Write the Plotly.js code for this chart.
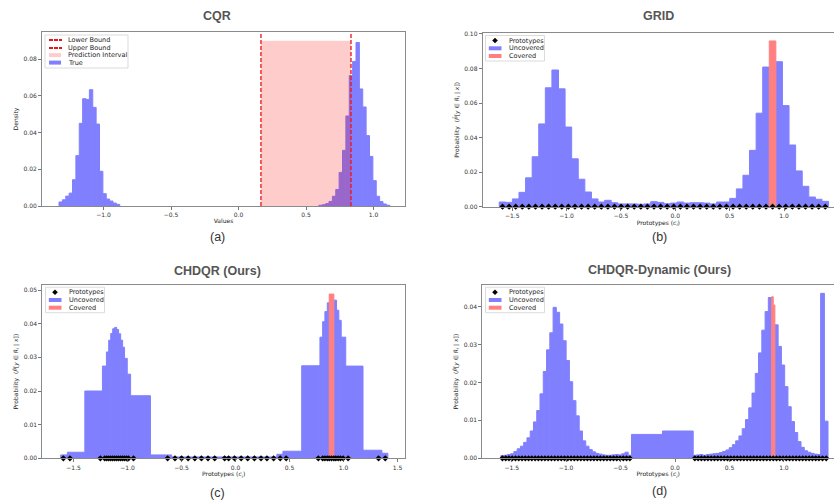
<!DOCTYPE html>
<html>
<head>
<meta charset="utf-8">
<script src="https://cdn.plot.ly/plotly-3.0.1.min.js"></script>
<style>html,body{margin:0;padding:0;background:#fff;overflow:hidden;}#chart{width:834px;height:502px;}</style>
</head>
<body>
<div id="chart"></div>
<script>
// ---------------- DATA ----------------
// (a) CQR
const cqrBinWidth = 0.025;
const cqrLeftStart = -1.33;
const cqrLeft = [0.0022, 0.0034, 0.0054, 0.0070, 0.0143, 0.0274, 0.0450, 0.0584, 0.0580, 0.0633, 0.0537, 0.0446, 0.0189, 0.0067, 0.0038, 0.0027, 0.0016, 0.0009];
const cqrRightStart = 0.595;
const cqrRight = [0.0004, 0.0007, 0.0013, 0.0025, 0.0053, 0.0090, 0.0183, 0.0303, 0.0490, 0.0710, 0.0787, 0.0890, 0.0637, 0.0539, 0.0383, 0.0270, 0.0138, 0.0053, 0.0024, 0.0011, 0.0004];
const cqrLowerBound = 0.166;
const cqrUpperBound = 0.833;
const cqrIntervalHeight = 0.090;

// (b) GRID
const gridStart = -1.62;
const gridWidth = 0.0606;
const gridProb = [0.0027, 0.0025, 0.0045, 0.0083, 0.0167, 0.0289, 0.0479, 0.0688, 0.0791, 0.0682,
  0.0461, 0.0277, 0.0159, 0.0085, 0.0045, 0.0027, 0.0037, 0.0023, 0.0016, 0.0016,
  0.0016, 0.0014, 0.0016, 0.0029, 0.0025, 0.0017, 0.0021, 0.0027, 0.0021, 0.0023,
  0.0023, 0.0021, 0.0016, 0.0027, 0.0027, 0.0048, 0.0103, 0.0182, 0.0326, 0.0541,
  0.0808, 0.0959, 0.0839, 0.0585, 0.0357, 0.0207, 0.0118, 0.0056, 0.0043, 0.0031];
const gridCovered = [41];

// (c) CHDQR
const chdqrEdges = [-1.620, -1.558, -1.396, -1.233, -1.196, -1.175, -1.156, -1.138, -1.120, -1.101,
  -1.083, -1.064, -1.046, -1.028, -1.003, -0.972, -0.788, -0.592, 0.383, 0.439,
  0.613, 0.782, 0.807, 0.828, 0.850, 0.868, 0.911, 0.936, 0.957, 0.979,
  1.021, 1.181, 1.356, 1.411];
const chdqrProb = [0.0010, 0.0018, 0.0200, 0.0274, 0.0316, 0.0351, 0.0371, 0.0385, 0.0389, 0.0383,
  0.0370, 0.0351, 0.0330, 0.0297, 0.0250, 0.0186, 0.0010, 0.0004, 0.0012, 0.0021,
  0.0275, 0.0360, 0.0406, 0.0436, 0.0462, 0.0488, 0.0470, 0.0440, 0.0410, 0.0360,
  0.0274, 0.0024, 0.0015];
const chdqrCovered = [25];
const chdqrPrototypes = [-1.595, -1.534, -1.252, -1.212, -1.193, -1.175, -1.156, -1.138, -1.120, -1.101,
  -1.083, -1.064, -1.046, -1.028, -1.009, -0.991, -0.945, -0.629, -0.561, -0.500,
  -0.439, -0.377, -0.316, -0.255, -0.193, -0.101, -0.064, -0.009, 0.052, 0.113,
  0.175, 0.236, 0.291, 0.353, 0.414, 0.469, 0.767, 0.807, 0.828, 0.850,
  0.868, 0.890, 0.911, 0.929, 0.951, 0.972, 0.997, 1.043, 1.325, 1.387];

// (d) CHDQR-Dynamic
const dynBinWidth = 0.03;
const dynLeftStart = -1.60;
const dynLeft = [0.0007, 0.0008, 0.0010, 0.0012, 0.0018, 0.0025, 0.0032, 0.0042, 0.0054, 0.0072,
  0.0096, 0.0126, 0.0170, 0.0229, 0.0286, 0.0331, 0.0398, 0.0385, 0.0354, 0.0310,
  0.0258, 0.0202, 0.0152, 0.0112, 0.0072, 0.0046, 0.0032, 0.0023, 0.0017, 0.0013,
  0.0011, 0.0009, 0.0008, 0.0008, 0.0009, 0.0010, 0.0009, 0.0012, 0.0016, 0.0008];
const dynMidEdges = [-0.40, -0.115, 0.167];
const dynMid = [0.0063, 0.0072];
const dynRightStart = 0.167;
const dynRight = [0.0008, 0.0009, 0.0010, 0.0008, 0.0010, 0.0011, 0.0012, 0.0013, 0.0015, 0.0018,
  0.0022, 0.0028, 0.0036, 0.0046, 0.0059, 0.0078, 0.0102, 0.0133, 0.0172, 0.0224,
  0.0278, 0.0338, 0.0387, 0.0424, null, 0.0352, 0.0295, 0.0246, 0.0189, 0.0136,
  0.0097, 0.0068, 0.0044, 0.0029, 0.0020, 0.0016, 0.0013, 0.0011, 0.0010];
const dynCoveredEdges = [0.887, 0.902, 0.917];
const dynCovered = [0.0426, 0.0404];
const dynSpikeEdges = [1.337, 1.372, 1.405];
const dynSpike = [0.0435, 0.0098];

// ---------------- HELPERS ----------------
const W = 834, H = 502;
const px = v => v / W;
const py = v => 1 - v / H;
const BLUE = '#8080ff';   // blue at alpha 0.5 on white
const RED = '#ff8080';    // red at alpha 0.5 on white
const PINK = 'rgba(255,0,0,0.2)';
const LRED = 'rgb(235,20,20)';

function uniformEdges(start, width, n) {
  const e = [];
  for (let i = 0; i <= n; i++) e.push(start + i * width);
  return e;
}
function barsFromEdges(edges, heights, skip) {
  const x = [], w = [], y = [];
  heights.forEach((h, i) => {
    if (h === null || (skip && skip.indexOf(i) >= 0)) return;
    x.push((edges[i] + edges[i + 1]) / 2);
    w.push(edges[i + 1] - edges[i]);
    y.push(h);
  });
  return {x, w, y};
}
function pick(edges, heights, idx) {
  const x = [], w = [], y = [];
  idx.forEach(i => { x.push((edges[i] + edges[i + 1]) / 2); w.push(edges[i + 1] - edges[i]); y.push(heights[i]); });
  return {x, w, y};
}
function centers(edges) {
  const c = [];
  for (let i = 0; i < edges.length - 1; i++) c.push((edges[i] + edges[i + 1]) / 2);
  return c;
}
function barTrace(b, color, xa, ya, lw) {
  return {type: 'bar', x: b.x, y: b.y, width: b.w, xaxis: xa, yaxis: ya,
    marker: {color: color, line: {width: lw === undefined ? 1 : lw, color: color}}, hoverinfo: 'x+y'};
}
function protoTrace(xs, xa, ya) {
  return {type: 'scatter', mode: 'markers', x: xs, y: xs.map(() => 0), xaxis: xa, yaxis: ya,
    marker: {symbol: 'diamond', size: 4.8, color: '#000'}, cliponaxis: false, hoverinfo: 'x'};
}

const traces = [];
// (a)
const cqrLeftEdges = uniformEdges(cqrLeftStart, cqrBinWidth, cqrLeft.length);
const cqrRightEdges = uniformEdges(cqrRightStart, cqrBinWidth, cqrRight.length);
traces.push(barTrace(barsFromEdges(cqrLeftEdges, cqrLeft), BLUE, 'x', 'y'));
traces.push(barTrace(barsFromEdges(cqrRightEdges, cqrRight), BLUE, 'x', 'y'));
traces.push(barTrace({x: [(cqrLowerBound + cqrUpperBound) / 2], w: [cqrUpperBound - cqrLowerBound], y: [cqrIntervalHeight]}, PINK, 'x', 'y', 0));

// (b)
const gridEdges = uniformEdges(gridStart, gridWidth, gridProb.length);
traces.push(barTrace(barsFromEdges(gridEdges, gridProb, gridCovered), BLUE, 'x2', 'y2'));
traces.push(barTrace(pick(gridEdges, gridProb, gridCovered), RED, 'x2', 'y2'));
traces.push(protoTrace(centers(gridEdges), 'x2', 'y2'));

// (c)
traces.push(barTrace(barsFromEdges(chdqrEdges, chdqrProb, chdqrCovered), BLUE, 'x3', 'y3'));
traces.push(barTrace(pick(chdqrEdges, chdqrProb, chdqrCovered), RED, 'x3', 'y3'));
traces.push(protoTrace(chdqrPrototypes, 'x3', 'y3'));

// (d)
const dynLeftEdges = uniformEdges(dynLeftStart, dynBinWidth, dynLeft.length);
const dynRightEdges = uniformEdges(dynRightStart, dynBinWidth, dynRight.length);
traces.push(barTrace(barsFromEdges(dynLeftEdges, dynLeft), BLUE, 'x4', 'y4'));
traces.push(barTrace(barsFromEdges(dynMidEdges, dynMid), BLUE, 'x4', 'y4'));
traces.push(barTrace(barsFromEdges(dynRightEdges, dynRight), BLUE, 'x4', 'y4'));
traces.push(barTrace(barsFromEdges(dynSpikeEdges, dynSpike), BLUE, 'x4', 'y4'));
traces.push(barTrace(barsFromEdges(dynCoveredEdges, dynCovered), RED, 'x4', 'y4'));
traces.push(protoTrace([].concat(centers(dynLeftEdges), centers(dynRightEdges), centers(dynSpikeEdges)), 'x4', 'y4'));

// ---------------- LAYOUT ----------------
const tickFont = {family: 'DejaVu Sans', size: 6, color: '#333'};
const titleFont = {family: 'DejaVu Sans', size: 6, color: '#222'};
function xAxis(dom, range, anchor, title, mirror) {
  return {domain: dom, range: range, anchor: anchor, showgrid: false, zeroline: false,
    showline: true, linecolor: '#8a8a8a', linewidth: 1, mirror: mirror,
    ticks: 'outside', ticklen: 3, tickwidth: 0.8, tickcolor: '#555', dtick: 0.5, tick0: 0,
    tickformat: '.1f', tickfont: tickFont, automargin: false,
    title: {text: title, font: titleFont, standoff: 1}};
}
function yAxis(dom, range, anchor, dtick, title, mirror) {
  return {domain: dom, range: range, anchor: anchor, showgrid: false, zeroline: false,
    showline: true, linecolor: '#8a8a8a', linewidth: 1, mirror: mirror,
    ticks: 'outside', ticklen: 3, tickwidth: 0.8, tickcolor: '#555', dtick: dtick, tick0: 0,
    tickformat: '.2f', tickfont: tickFont, automargin: false,
    title: {text: title, font: titleFont, standoff: 4}};
}
const probTitle = 'Probability  (<i>P̂</i>[<i>y</i> ∈ <i>R<sub>i</sub></i> | <i>x</i>])';
const protoTitle = 'Prototypes (<i>c<sub>i</sub></i>)';

const shapes = [
  {type: 'line', xref: 'x', yref: 'y domain', x0: cqrLowerBound, x1: cqrLowerBound, y0: 0, y1: 1,
    line: {color: LRED, width: 1.3, dash: '4px,2px'}},
  {type: 'line', xref: 'x', yref: 'y domain', x0: cqrUpperBound, x1: cqrUpperBound, y0: 0, y1: 1,
    line: {color: LRED, width: 1.3, dash: '4px,2px'}}
];
const annotations = [];

function addText(text, x, y, opts) {
  annotations.push(Object.assign({text: text, xref: 'paper', yref: 'paper', x: px(x), y: py(y),
    showarrow: false, xanchor: 'center', yanchor: 'middle'}, opts));
}
function frame(x0, y0, x1, y1) {
  shapes.push({type: 'rect', xref: 'paper', yref: 'paper', x0: px(x0), x1: px(x1), y0: py(y1), y1: py(y0),
    line: {color: '#d2d2d2', width: 0.8}, fillcolor: 'rgba(255,255,255,0.85)', layer: 'above'});
}
function patch(x0, x1, yc, color) {
  shapes.push({type: 'rect', xref: 'paper', yref: 'paper', x0: px(x0), x1: px(x1), y0: py(yc + 2), y1: py(yc - 2),
    line: {width: 0}, fillcolor: color, layer: 'above'});
}
function dashSample(x0, x1, yTop) {
  // three short red dashes, like a matplotlib '--' legend handle (2 px tall, pixel aligned)
  [[0, 4], [5, 9], [10, 13]].forEach(s => {
    shapes.push({type: 'rect', xref: 'paper', yref: 'paper', x0: px(x0 + s[0]), x1: px(x0 + s[1]),
      y0: py(yTop + 2), y1: py(yTop), line: {width: 0}, fillcolor: LRED, layer: 'above'});
  });
}
function diamond(xc, yc, r) {
  shapes.push({type: 'path', xref: 'paper', yref: 'paper',
    path: 'M ' + px(xc) + ',' + py(yc - r) + ' L ' + px(xc + r) + ',' + py(yc) + ' L ' + px(xc) + ',' + py(yc + r) + ' L ' + px(xc - r) + ',' + py(yc) + ' Z',
    line: {width: 0}, fillcolor: '#000', layer: 'above'});
}
const legFont = {family: 'DejaVu Sans', size: 6.5, color: '#222'};
function legText(t, x, y) { addText(t, x, y, {xanchor: 'left', font: legFont}); }

// legend (a)
frame(45, 35, 128, 68);
dashSample(49, 62, 39); legText('Lower Bound', 66, 40.2);
dashSample(49, 62, 47); legText('Upper Bound', 66, 47.8);
patch(49, 61, 55.1, PINK); legText('Prediction Interval', 66, 55.1);
patch(49, 61, 62.6, BLUE); legText('True', 66, 62.6);

function protoLegend(x0, y0) {
  frame(x0, y0, x0 + 59, y0 + 25.5);
  diamond(x0 + 9.5, y0 + 5, 2.8); legText('Prototypes', x0 + 21.5, y0 + 5);
  patch(x0 + 3.3, x0 + 16, y0 + 12.8, BLUE); legText('Uncovered', x0 + 21.5, y0 + 12.8);
  patch(x0 + 3.3, x0 + 16, y0 + 20.5, RED); legText('Covered', x0 + 21.5, y0 + 20.5);
}
protoLegend(485.5, 35.5);
protoLegend(45.5, 287.2);
protoLegend(485.5, 287.2);

// titles
const tFont = {family: 'Liberation Sans', size: 12.5, color: '#555'};
const sFont = {family: 'Liberation Sans', size: 12.5, color: '#333'};
addText('<b>CQR</b>', 217, 16, {font: tFont});
addText('<b>GRID</b>', 658, 16, {font: tFont});
addText('<b>CHDQR (Ours)</b>', 217, 270.5, {font: tFont});
addText('<b>CHDQR-Dynamic (Ours)</b>', 659, 270, {font: tFont});
addText('(a)', 217, 237, {font: sFont});
addText('(b)', 659, 237, {font: sFont});
addText('(c)', 217, 492.5, {font: sFont});
addText('(d)', 659, 491, {font: sFont});

const layout = {
  width: W, height: H, margin: {l: 0, r: 0, t: 0, b: 0},
  paper_bgcolor: '#fff', plot_bgcolor: '#fff', showlegend: false, barmode: 'overlay',
  font: {family: 'DejaVu Sans'},
  xaxis: xAxis([px(42), px(405)], [-1.456, 1.233], 'y', 'Values', true),
  yaxis: yAxis([py(206), py(32)], [0, 0.0947], 'x', 0.02, 'Density', true),
  xaxis2: xAxis([px(482.7), 1], [-1.772, 1.46], 'y2', protoTitle, true),
  yaxis2: yAxis([py(206.7), py(33)], [0, 0.1005], 'x2', 0.02, probTitle, false),
  xaxis3: xAxis([px(42.3), px(405)], [-1.79, 1.57], 'y3', protoTitle, true),
  yaxis3: yAxis([py(458.3), py(285)], [0, 0.0515], 'x3', 0.01, probTitle, true),
  xaxis4: xAxis([px(482.3), 1], [-1.77, 1.46], 'y4', protoTitle, true),
  yaxis4: yAxis([py(458.3), py(285)], [0, 0.0457], 'x4', 0.01, probTitle, false),
  shapes: shapes,
  annotations: annotations
};

Plotly.newPlot('chart', traces, layout, {displayModeBar: false, staticPlot: true});
</script>
</body>
</html>
